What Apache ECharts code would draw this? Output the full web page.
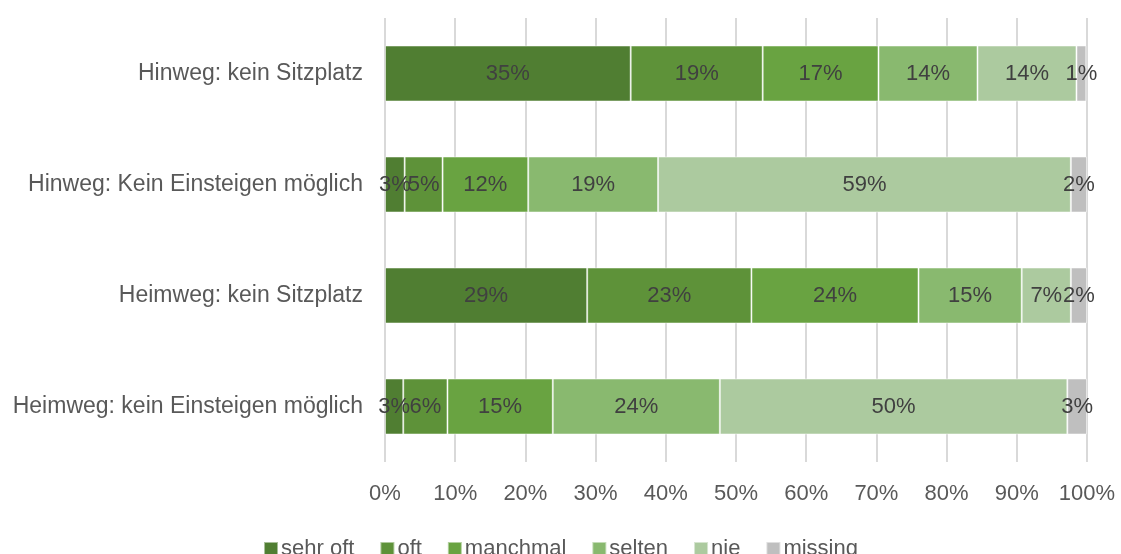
<!DOCTYPE html>
<html>
<head>
<meta charset="utf-8">
<script src="https://cdn.jsdelivr.net/npm/echarts@6/dist/echarts.min.js"></script>
<style>
  html, body { margin: 0; padding: 0; background: #fff; }
  #chart { width: 1121px; height: 554px; }
</style>
</head>
<body>
<div id="chart"></div>
<script>
// Kategorien (von oben nach unten)
const categories = [
  'Hinweg: kein Sitzplatz',
  'Hinweg: Kein Einsteigen möglich',
  'Heimweg: kein Sitzplatz',
  'Heimweg: kein Einsteigen möglich'
];

// Anteile in Prozent
const sehrOft  = [35.0, 2.8, 28.8, 2.6];
const oft      = [18.8, 5.4, 23.4, 6.3];
const manchmal = [16.5, 12.2, 23.8, 15.0];
const selten   = [14.1, 18.5, 14.7, 23.8];
const nie      = [14.1, 58.8, 7.0, 49.5];
const missing  = [1.4, 2.3, 2.3, 2.8];

const xTicks = [0, 10, 20, 30, 40, 50, 60, 70, 80, 90, 100];

const seriesDefs = [
  { name: 'sehr oft', data: sehrOft,  color: '#507e32' },
  { name: 'oft',      data: oft,      color: '#5e9239' },
  { name: 'manchmal', data: manchmal, color: '#69a341' },
  { name: 'selten',   data: selten,   color: '#89b96f' },
  { name: 'nie',      data: nie,      color: '#acca9f' },
  { name: 'missing',  data: missing,  color: '#bfbfbf' }
];

const chart = echarts.init(document.getElementById('chart'));

chart.setOption({
  animation: false,
  textStyle: { fontFamily: 'Liberation Sans, Arial, sans-serif' },
  grid: { left: 385, right: 34, top: 18, bottom: 92, containLabel: false },
  legend: {
    top: 533,
    left: 'center',
    itemWidth: 14,
    itemHeight: 14,
    itemGap: 25,
    icon: 'rect',
    textStyle: { fontSize: 22, color: '#595959', padding: [0, 0, 0, -2] },
    data: seriesDefs.map(s => s.name)
  },
  xAxis: {
    type: 'value',
    min: xTicks[0],
    max: xTicks[xTicks.length - 1],
    interval: 10,
    axisLine: { show: false },
    axisTick: { show: false },
    axisLabel: {
      fontSize: 22,
      color: '#595959',
      margin: 21,
      formatter: v => v + '%'
    },
    splitLine: { lineStyle: { color: '#d9d9d9', width: 2 } }
  },
  yAxis: {
    type: 'category',
    inverse: true,
    data: categories,
    axisLine: { show: false },
    axisTick: { show: false },
    axisLabel: { fontSize: 23, color: '#595959', margin: 22 }
  },
  series: seriesDefs.map(s => ({
    name: s.name,
    type: 'bar',
    stack: 'total',
    barWidth: 56,
    data: s.data,
    itemStyle: { color: s.color, borderColor: 'rgba(255,255,255,0.5)', borderWidth: 1 },
    label: {
      show: true,
      position: 'inside',
      fontSize: 22,
      color: '#404040',
      formatter: p => Math.round(p.value) + '%'
    }
  }))
});
</script>
</body>
</html>
